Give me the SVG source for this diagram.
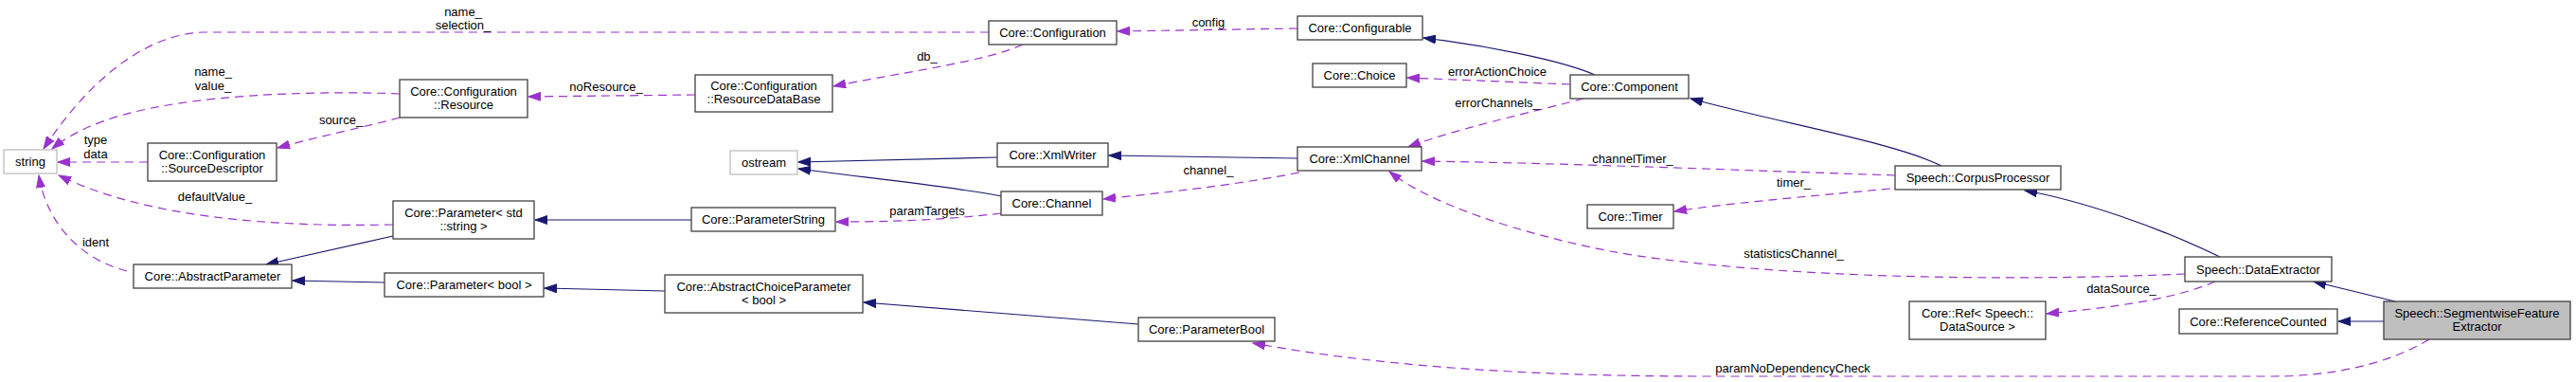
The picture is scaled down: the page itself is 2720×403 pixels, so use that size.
<svg xmlns="http://www.w3.org/2000/svg" width="2720" height="403" viewBox="0 0 2720 403">
<style>
text{font-family:"Liberation Sans",Arial,Helvetica,sans-serif;font-size:13px;fill:#000;text-anchor:middle}
.n rect{fill:#fff;stroke:#404040;stroke-width:1.3}
.n.ext rect{stroke:#bfbfbf}
.n.cur rect{fill:#bfbfbf}
.inh{fill:none;stroke:#191970;stroke-width:1.2;marker-end:url(#ab)}
.use{fill:none;stroke:#9a32cd;stroke-width:1.2;stroke-dasharray:9,6;marker-end:url(#ap)}
</style>
<defs>
<marker id="ab" markerUnits="userSpaceOnUse" markerWidth="14" markerHeight="10" refX="13" refY="5" orient="auto"><path d="M0,0.5 L13,5 L0,9.5 z" fill="#191970" stroke="#191970"/></marker>
<marker id="ap" markerUnits="userSpaceOnUse" markerWidth="14" markerHeight="10" refX="13" refY="5" orient="auto"><path d="M0,0.5 L13,5 L0,9.5 z" fill="#9a32cd" stroke="#9a32cd"/></marker>
</defs>
<rect width="2720" height="403" fill="#fff"/>
<g id="connectors">
<path class="use" d="M1044,34 L215,34 C150,36 90,90 46,157"/>
<path class="use" d="M422,99 C350,96 240,98 160,114 C110,124 75,140 55,157"/>
<path class="use" d="M156,171 L61,171"/>
<path class="use" d="M422,124 C390,133 340,143 293,156"/>
<path class="use" d="M734,100 L558,102"/>
<path class="use" d="M1080,47 C1040,65 960,75 880,91"/>
<path class="use" d="M1370,30 L1180,33"/>
<path class="inh" d="M1684,79 C1650,64 1570,48 1503,40"/>
<path class="use" d="M1658,89 L1486,82"/>
<path class="use" d="M1672,104 C1620,118 1540,135 1487,155"/>
<path class="inh" d="M2050,175 C2000,150 1880,130 1785,104"/>
<path class="use" d="M2001,185 C1850,180 1650,172 1502,170"/>
<path class="use" d="M1996,199 C1900,208 1820,215 1768,223"/>
<path class="inh" d="M1370,167 L1171,164"/>
<path class="use" d="M1372,182 C1300,196 1230,203 1165,210"/>
<path class="inh" d="M1053,166 L843,171"/>
<path class="inh" d="M1058,207 C1000,196 900,186 843,178"/>
<path class="use" d="M1057,225 C1000,232 940,234 883,234"/>
<path class="inh" d="M730,232 L565,232"/>
<path class="use" d="M415,237 C280,240 150,228 62,185"/>
<path class="use" d="M134,286 C90,275 50,240 41,185"/>
<path class="inh" d="M415,249 L281,279"/>
<path class="inh" d="M406,298 L309,296"/>
<path class="inh" d="M702,307 L575,304"/>
<path class="inh" d="M1202,342 L912,319"/>
<path class="use" d="M2565,358 C2520,385 2460,397 2400,397 L1806,397 C1600,397 1450,385 1323,362"/>
<path class="inh" d="M2529,318 L2443,297"/>
<path class="inh" d="M2517,339 L2469,339"/>
<path class="inh" d="M2344,271 C2280,240 2200,212 2138,201"/>
<path class="use" d="M2307,289 C2100,298 1850,292 1700,265 C1600,245 1510,215 1467,181"/>
<path class="use" d="M2339,297 C2290,318 2220,325 2161,331"/>
<text x="489" y="17">name_</text><text x="489" y="31">selection_</text>
<text x="1276" y="28">config</text>
<text x="979" y="64">db_</text>
<text x="640" y="96">noResource_</text>
<text x="225" y="80">name_</text><text x="225" y="95">value_</text>
<text x="360" y="131">source_</text>
<text x="101" y="152">type</text><text x="101" y="167">data</text>
<text x="227" y="212">defaultValue_</text>
<text x="101" y="260">ident</text>
<text x="1581" y="80">errorActionChoice</text>
<text x="1581" y="113">errorChannels_</text>
<text x="1724" y="172">channelTimer_</text>
<text x="1894" y="197">timer_</text>
<text x="1276" y="184">channel_</text>
<text x="979" y="227">paramTargets</text>
<text x="1894" y="272">statisticsChannel_</text>
<text x="2240" y="309">dataSource_</text>
<text x="1893" y="393">paramNoDependencyCheck</text>
</g>
<g id="string" class="n ext"><rect x="4" y="158" width="56" height="25"/><text x="32" y="175">string</text></g>
<g id="sourceDescriptor" class="n"><rect x="156" y="151" width="136" height="40"/><text x="224" y="168">Core::Configuration</text><text x="224" y="182">::SourceDescriptor</text></g>
<g id="resource" class="n"><rect x="422" y="84" width="135" height="40"/><text x="489.5" y="101">Core::Configuration</text><text x="489.5" y="115">::Resource</text></g>
<g id="resourceDataBase" class="n"><rect x="734" y="79" width="145" height="39"/><text x="806.5" y="95">Core::Configuration</text><text x="806.5" y="109">::ResourceDataBase</text></g>
<g id="configuration" class="n"><rect x="1044" y="22" width="135" height="25"/><text x="1111.5" y="39">Core::Configuration</text></g>
<g id="configurable" class="n"><rect x="1370" y="17" width="132" height="25"/><text x="1436" y="34">Core::Configurable</text></g>
<g id="choice" class="n"><rect x="1386" y="67" width="99" height="25"/><text x="1435.5" y="84">Core::Choice</text></g>
<g id="component" class="n"><rect x="1658" y="79" width="125" height="25"/><text x="1720.5" y="96">Core::Component</text></g>
<g id="ostream" class="n ext"><rect x="771" y="159" width="71" height="25"/><text x="806.5" y="176">ostream</text></g>
<g id="xmlWriter" class="n"><rect x="1053" y="151" width="117" height="25"/><text x="1111.5" y="168">Core::XmlWriter</text></g>
<g id="xmlChannel" class="n"><rect x="1370" y="155" width="131" height="25"/><text x="1435.5" y="172">Core::XmlChannel</text></g>
<g id="channel" class="n"><rect x="1057" y="202" width="107" height="25"/><text x="1110.5" y="219">Core::Channel</text></g>
<g id="parameterStdString" class="n"><rect x="415" y="212" width="149" height="40"/><text x="489.5" y="229">Core::Parameter&lt; std</text><text x="489.5" y="243">::string &gt;</text></g>
<g id="parameterString" class="n"><rect x="730" y="219" width="152" height="25"/><text x="806" y="236">Core::ParameterString</text></g>
<g id="abstractParameter" class="n"><rect x="141" y="279" width="167" height="25"/><text x="224.5" y="296">Core::AbstractParameter</text></g>
<g id="parameterBoolT" class="n"><rect x="406" y="288" width="168" height="25"/><text x="490" y="305">Core::Parameter&lt; bool &gt;</text></g>
<g id="abstractChoiceParameter" class="n"><rect x="702" y="290" width="209" height="40"/><text x="806.5" y="307">Core::AbstractChoiceParameter</text><text x="806.5" y="321">&lt; bool &gt;</text></g>
<g id="parameterBool" class="n"><rect x="1202" y="335" width="144" height="25"/><text x="1274" y="352">Core::ParameterBool</text></g>
<g id="timer" class="n"><rect x="1676" y="216" width="91" height="25"/><text x="1721.5" y="233">Core::Timer</text></g>
<g id="corpusProcessor" class="n"><rect x="2001" y="175" width="175" height="25"/><text x="2088.5" y="192">Speech::CorpusProcessor</text></g>
<g id="dataExtractor" class="n"><rect x="2307" y="271" width="155" height="26"/><text x="2384.5" y="288.5">Speech::DataExtractor</text></g>
<g id="refDataSource" class="n"><rect x="2016" y="318" width="144" height="40"/><text x="2088" y="335">Core::Ref&lt; Speech::</text><text x="2088" y="349">DataSource &gt;</text></g>
<g id="referenceCounted" class="n"><rect x="2301" y="326" width="167" height="26"/><text x="2384.5" y="343.5">Core::ReferenceCounted</text></g>
<g id="segmentwiseFeatureExtractor" class="n cur"><rect x="2517" y="318" width="197" height="40"/><text x="2615.5" y="335">Speech::SegmentwiseFeature</text><text x="2615.5" y="349">Extractor</text></g>
</svg>
